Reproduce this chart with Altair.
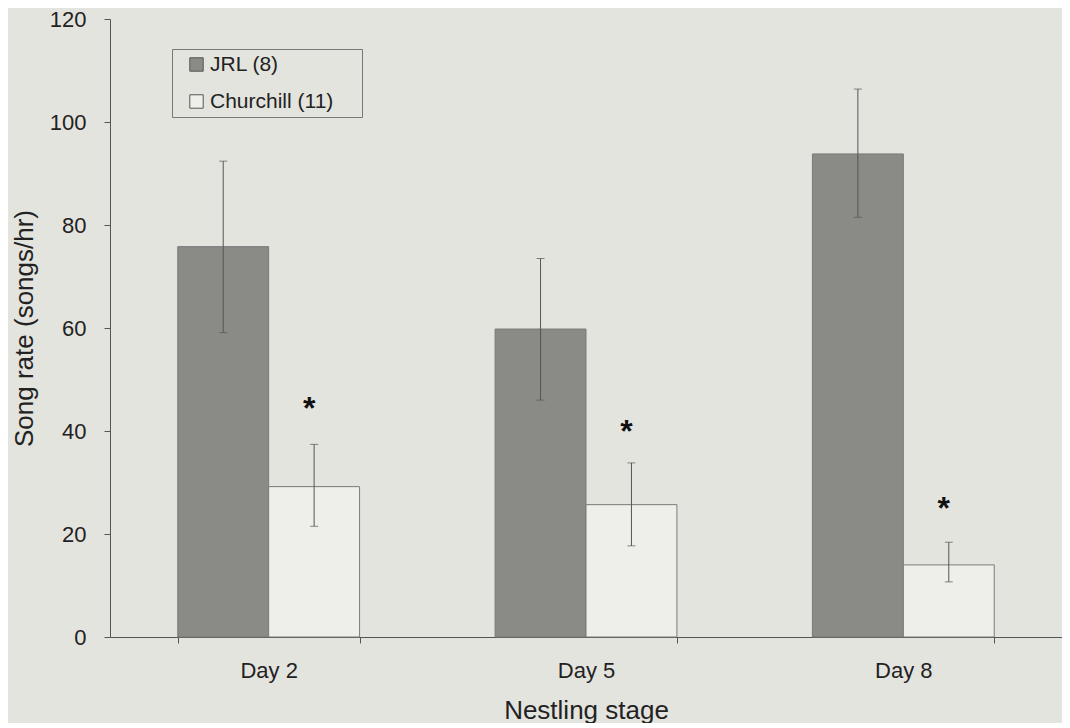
import altair as alt
import pandas as pd

stages = ["Day 2", "Day 5", "Day 8"]
groups = ["JRL (8)", "Churchill (11)"]
jrl_mean = [75.8, 59.8, 93.8]
jrl_upper = [92.4, 73.5, 106.4]
jrl_lower = [59.1, 46.0, 81.5]
ch_mean = [29.2, 25.7, 14.0]
ch_upper = [37.4, 33.8, 18.4]
ch_lower = [21.5, 17.7, 10.7]
star_y = [45.8, 41.4, 26.4]

rows = []
for i, s in enumerate(stages):
    rows.append(dict(stage=s, group=groups[0], mean=jrl_mean[i], lo=jrl_lower[i], hi=jrl_upper[i]))
    rows.append(dict(stage=s, group=groups[1], mean=ch_mean[i], lo=ch_lower[i], hi=ch_upper[i]))
df = pd.DataFrame(rows)
stars = pd.DataFrame(dict(stage=stages, group=[groups[1]] * 3, y=star_y, t=["*"] * 3))

BG = "#e4e4df"
FONT = "Liberation Sans"

x = alt.X(
    "stage:N",
    sort=stages,
    scale=alt.Scale(paddingInner=0.427, paddingOuter=0.2135),
    axis=alt.Axis(
        title="Nestling stage",
        labelAngle=0,
        tickBand="extent",
        tickSize=6,
        labelPadding=17,
        titlePadding=16,
    ),
)
xo = alt.XOffset("group:N", sort=groups, scale=alt.Scale(domain=groups, paddingInner=0, paddingOuter=0))
yscale = alt.Scale(domain=[0, 120], nice=False)

bars = alt.Chart(df).mark_bar(stroke="#7a7a7a", strokeWidth=1).encode(
    x=x,
    xOffset=xo,
    y=alt.Y(
        "mean:Q",
        scale=yscale,
        axis=alt.Axis(
            title="Song rate (songs/hr)",
            values=[0, 20, 40, 60, 80, 100, 120],
            grid=False,
            tickSize=6,
            labelPadding=18,
            titlePadding=12,
        ),
    ),
    fill=alt.Fill(
        "group:N",
        sort=groups,
        scale=alt.Scale(domain=groups, range=["#8a8a87", "#eeeeea"]),
        legend=alt.Legend(
            title=None,
            orient="none",
            legendX=62,
            legendY=30,
            direction="vertical",
            padding=5,
            symbolOffset=9,
            symbolType="square",
            symbolSize=180,
            symbolStrokeColor="#555555",
            symbolStrokeWidth=1,
            labelFontSize=21,
            labelFont=FONT,
            labelColor="#222222",
            labelOffset=3,
            rowPadding=15,
            strokeColor="#777777",
            fillColor=BG,
            labelExpr="datum.label + '\u00a0\u00a0\u00a0\u00a0\u200b'",
        ),
    ),
)

rules = alt.Chart(df).mark_rule(color="#555555", strokeWidth=1).encode(
    x=x, xOffset=xo, y=alt.Y("lo:Q", scale=yscale), y2="hi:Q"
)
cap_lo = alt.Chart(df).mark_tick(color="#555555", thickness=1, size=8).encode(
    x=x, xOffset=xo, y=alt.Y("lo:Q", scale=yscale)
)
cap_hi = alt.Chart(df).mark_tick(color="#555555", thickness=1, size=8).encode(
    x=x, xOffset=xo, y=alt.Y("hi:Q", scale=yscale)
)
star_marks = alt.Chart(stars).mark_text(
    fontSize=32, fontWeight="bold", font=FONT, color="#111111", baseline="alphabetic", dx=-5, dy=18
).encode(x=x, xOffset=xo, y=alt.Y("y:Q", scale=yscale), text="t:N")

chart = (
    alt.layer(bars, rules, cap_lo, cap_hi, star_marks)
    .properties(
        width=952,
        height=618,
        background=BG,
        padding={"left": 3, "top": 0, "right": 0, "bottom": 0},
    )
    .configure_view(stroke=None)
    .configure_axis(
        labelFont=FONT,
        titleFont=FONT,
        labelFontSize=22,
        titleFontSize=26,
        titleFontWeight="normal",
        labelColor="#222222",
        titleColor="#222222",
        domainColor="#555555",
        tickColor="#555555",
    )
)

chart.save("out.html", embed_options={"renderer": "svg", "actions": False})
